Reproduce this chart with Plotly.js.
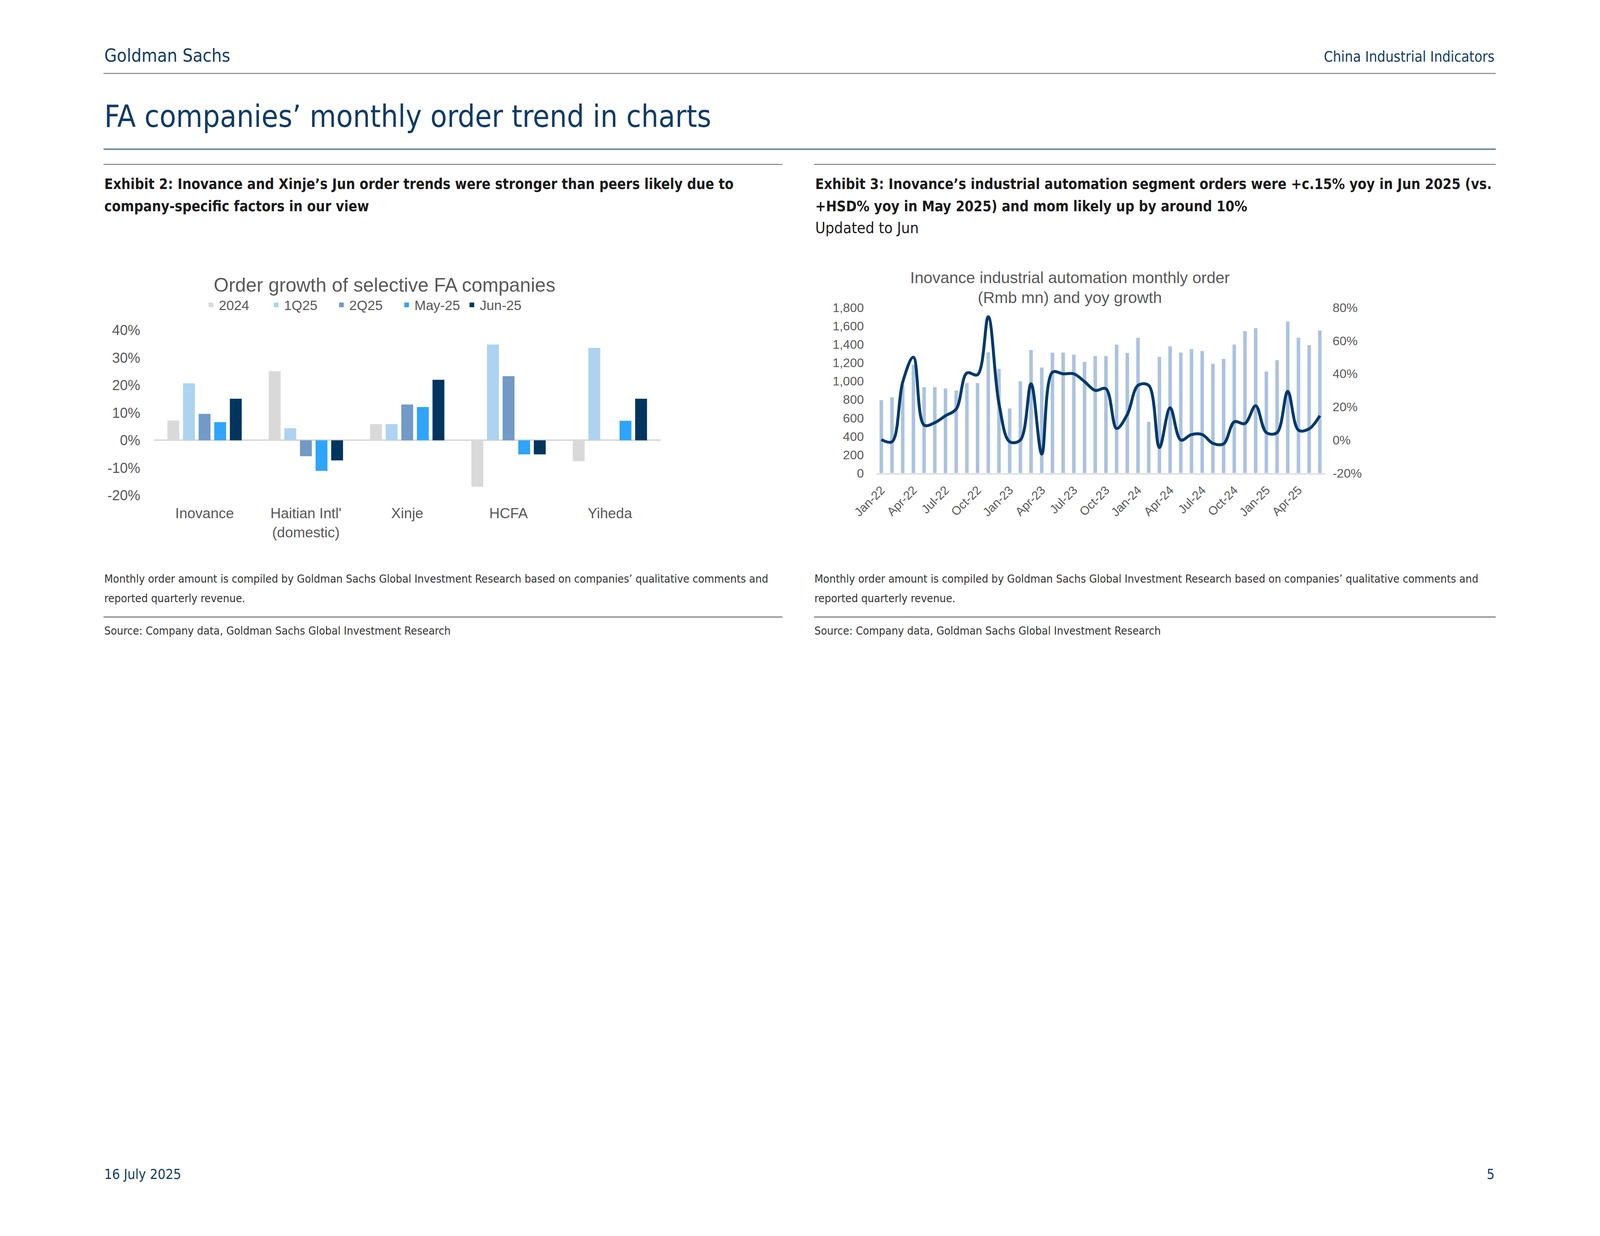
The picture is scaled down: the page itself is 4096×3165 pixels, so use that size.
<!DOCTYPE html>
<html>
<head>
<meta charset="utf-8">
<script src="https://cdn.plot.ly/plotly-3.0.1.min.js"></script>
<style>
html,body{margin:0;padding:0;background:#ffffff;}
#page{width:4096px;height:3165px;}
</style>
</head>
<body>
<div id="page"></div>
<script>
// ---------------- DATA ----------------
// Exhibit 2: order growth (%) of selective FA companies
const companies = ["Inovance", "Haitian Intl'", "Xinje", "HCFA", "Yiheda"];
const companyLabels = ["Inovance", "Haitian Intl'<br>(domestic)", "Xinje", "HCFA", "Yiheda"];
const seriesNames = ["2024", "1Q25", "2Q25", "May-25", "Jun-25"];
const growth2024 = [7.2, 25.1, 5.9, -16.9, -7.6];
const growth1Q25 = [20.7, 4.4, 5.9, 34.8, 33.6];
const growth2Q25 = [9.6, -5.8, 13.0, 23.3, null];
const growthMay25 = [6.6, -11.1, 12.1, -5.1, 7.1];
const growthJun25 = [15.1, -7.3, 22.0, -5.1, 15.1];
const growthTickVals = [-20, -10, 0, 10, 20, 30, 40];
const growthTickText = ["-20%", "-10%", "0%", "10%", "20%", "30%", "40%"];

// Exhibit 3: Inovance industrial automation monthly order (Rmb mn) and yoy growth (%)
const months = ["Jan-22","Feb-22","Mar-22","Apr-22","May-22","Jun-22","Jul-22","Aug-22","Sep-22","Oct-22","Nov-22","Dec-22",
                "Jan-23","Feb-23","Mar-23","Apr-23","May-23","Jun-23","Jul-23","Aug-23","Sep-23","Oct-23","Nov-23","Dec-23",
                "Jan-24","Feb-24","Mar-24","Apr-24","May-24","Jun-24","Jul-24","Aug-24","Sep-24","Oct-24","Nov-24","Dec-24",
                "Jan-25","Feb-25","Mar-25","Apr-25","May-25","Jun-25"];
const monthlyOrder = [795, 825, 960, 1180, 936, 936, 921, 899, 980, 980, 1315, 1134,
                      703, 999, 1339, 1149, 1310, 1310, 1288, 1210, 1273, 1273, 1397, 1307,
                      1472, 558, 1265, 1379, 1313, 1350, 1328, 1189, 1242, 1397, 1544, 1577,
                      1105, 1229, 1649, 1473, 1392, 1550];
const yoyGrowth = [0.3, -1.0, 35, 50, 9, 10.5, 14.7, 18.7, 40.5, 39.5, 74.5, 22,
                   -1, 0, 34, -8.5, 41, 40, 40, 35.3, 30, 31, 7, 15.5,
                   33, 33, -4.5, 19.5, 0, 3.3, 3.3, -2, -2.3, 11, 10, 20.7,
                   4.5, 4.5, 29.4, 6, 6.8, 14.7];
const monthTicks = ["Jan-22","Apr-22","Jul-22","Oct-22","Jan-23","Apr-23","Jul-23","Oct-23",
                    "Jan-24","Apr-24","Jul-24","Oct-24","Jan-25","Apr-25"];
const orderTickVals = [0, 200, 400, 600, 800, 1000, 1200, 1400, 1600, 1800];
const orderTickText = ["0", "200", "400", "600", "800", "1,000", "1,200", "1,400", "1,600", "1,800"];
const yoyTickVals = [-20, 0, 20, 40, 60, 80];
const yoyTickText = ["-20%", "0%", "20%", "40%", "60%", "80%"];

// ---------------- STYLE ----------------
const W = 4096, H = 3165;
const X = px => px / W;
const Y = py => 1 - py / H;
const PAGE_FONT = "Liberation Sans Narrow, Arial Narrow, DejaVu Sans Condensed, sans-serif";
const CHART_FONT = "Liberation Sans, Arial, sans-serif";
const NAVY = "#113b66";
const GREY_TXT = "#595959";
const NOTE_TXT = "#333333";
const seriesColors = ["#d9d9d9", "#add3f0", "#7399c6", "#2ea4fb", "#00355f"];
const seriesValues = [growth2024, growth1Q25, growth2Q25, growthMay25, growthJun25];

// ---------------- TRACES ----------------
const traces = [];
seriesNames.forEach((nm, i) => {
  traces.push({
    type: "bar", name: nm, x: companies, y: seriesValues[i],
    xaxis: "x", yaxis: "y",
    marker: {color: seriesColors[i]},
    hoverinfo: "skip"
  });
});
traces.push({
  type: "bar", name: "Monthly order", x: months, y: monthlyOrder,
  xaxis: "x2", yaxis: "y2", width: 0.33, showlegend: false,
  marker: {color: "#abc3df"}, hoverinfo: "skip"
});
traces.push({
  type: "scatter", mode: "lines", name: "yoy growth", x: months, y: yoyGrowth,
  xaxis: "x2", yaxis: "y3", showlegend: false,
  line: {color: "#00386a", width: 7.5, shape: "spline", smoothing: 1},
  hoverinfo: "skip"
});

// ---------------- ANNOTATIONS ----------------
function ann(text, xpx, basePx, size, o) {
  o = o || {};
  return Object.assign({
    text: text, xref: "paper", yref: "paper",
    x: X(xpx), y: Y(basePx + 0.212 * size),
    xanchor: "left", yanchor: "bottom", showarrow: false, borderpad: 0,
    font: {family: PAGE_FONT, size: size, color: "#1a1a1a"}
  }, o);
}
const pf = (s, c) => ({family: PAGE_FONT, size: s, color: c});
const cf = s => ({family: CHART_FONT, size: s, color: GREY_TXT});
const annotations = [
  ann("Goldman Sachs", 266, 160, 46, {font: pf(46, NAVY)}),
  ann("China Industrial Indicators", 3827, 160, 37, {xanchor: "right", font: pf(37, NAVY)}),
  ann("FA companies’ monthly order trend in charts", 266, 328, 77.5, {font: pf(77.5, NAVY)}),
  ann("<b>Exhibit 2: Inovance and Xinje’s Jun order trends were stronger than peers likely due to</b>", 266, 486, 36.5, {font: pf(36.5, "#1a1a1a")}),
  ann("<b>company-specific factors in our view</b>", 266, 543, 36.5, {font: pf(36.5, "#1a1a1a")}),
  ann("<b>Exhibit 3: Inovance’s industrial automation segment orders were +c.15% yoy in Jun 2025 (vs.</b>", 2086, 486, 36.5, {font: pf(36.5, "#1a1a1a")}),
  ann("<b>+HSD% yoy in May 2025) and mom likely up by around 10%</b>", 2086, 543, 36.5, {font: pf(36.5, "#1a1a1a")}),
  ann("Updated to Jun", 2086, 599, 39.5, {font: pf(39.5, "#1a1a1a")}),
  ann("Order growth of selective FA companies", 984, 748, 49.5, {xanchor: "center", font: cf(49.5)}),
  ann("Inovance industrial automation monthly order", 2739, 726, 41, {xanchor: "center", font: cf(41)}),
  ann("(Rmb mn) and yoy growth", 2739, 777, 41, {xanchor: "center", font: cf(41)}),
  ann("Monthly order amount is compiled by Goldman Sachs Global Investment Research based on companies’ qualitative comments and", 266, 1494, 28.8, {font: pf(28.8, NOTE_TXT)}),
  ann("reported quarterly revenue.", 266, 1544, 28.8, {font: pf(28.8, NOTE_TXT)}),
  ann("Monthly order amount is compiled by Goldman Sachs Global Investment Research based on companies’ qualitative comments and", 2084, 1494, 28.8, {font: pf(28.8, NOTE_TXT)}),
  ann("reported quarterly revenue.", 2084, 1544, 28.8, {font: pf(28.8, NOTE_TXT)}),
  ann("Source: Company data, Goldman Sachs Global Investment Research", 266, 1627, 28.8, {font: pf(28.8, NOTE_TXT)}),
  ann("Source: Company data, Goldman Sachs Global Investment Research", 2084, 1627, 28.8, {font: pf(28.8, NOTE_TXT)}),
  ann("16 July 2025", 266, 3021, 35, {font: pf(35, NAVY)}),
  ann("5", 3827, 3021, 35, {xanchor: "right", font: pf(35, NAVY)})
];

// ---------------- SHAPES (page rules) ----------------
function rule(x0, x1, y, color, w) {
  return {type: "line", xref: "paper", yref: "paper", x0: X(x0), x1: X(x1), y0: Y(y), y1: Y(y),
          line: {color: color, width: w}};
}
const shapes = [
  rule(265, 3829, 188, "#808080", 2.5),
  rule(265, 3829, 382, "#46678a", 3),
  rule(265, 2003, 421, "#808080", 2.5),
  rule(2084, 3829, 421, "#808080", 2.5),
  rule(265, 2003, 1580, "#6b6b6b", 2.5),
  rule(2084, 3829, 1580, "#6b6b6b", 2.5)
];

// ---------------- LAYOUT ----------------
const tickFont = s => ({family: CHART_FONT, size: s, color: GREY_TXT});
const layout = {
  width: W, height: H,
  margin: {l: 0, r: 0, t: 0, b: 0, pad: 0},
  paper_bgcolor: "#ffffff", plot_bgcolor: "rgba(0,0,0,0)",
  font: {family: CHART_FONT, color: GREY_TXT},
  barmode: "group", bargap: 0.23, bargroupgap: 0.24,
  showlegend: true,
  legend: {
    orientation: "h", x: X(520), xanchor: "left", y: Y(781), yanchor: "middle",
    font: {family: CHART_FONT, size: 35, color: GREY_TXT},
    entrywidth: 122, entrywidthmode: "pixels",
    bgcolor: "rgba(0,0,0,0)", borderwidth: 0, traceorder: "normal"
  },
  xaxis: {
    domain: [X(394), X(1691)], anchor: "y", type: "category",
    range: [-0.5, 4.5], tickvals: companies, ticktext: companyLabels,
    showgrid: false, zeroline: false, showline: false, ticks: "",
    tickfont: tickFont(37), ticklabelstandoff: 21, fixedrange: true
  },
  yaxis: {
    domain: [Y(1268.4), Y(845.6)], anchor: "x",
    range: [-20, 40], tickvals: growthTickVals, ticktext: growthTickText,
    showgrid: false, zeroline: true, zerolinecolor: "#d9d9d9", zerolinewidth: 4,
    showline: false, ticks: "", tickfont: tickFont(36), ticklabelstandoff: 34, fixedrange: true
  },
  xaxis2: {
    domain: [X(2242.5), X(3392.5)], anchor: "y2", type: "category",
    range: [-0.5, 41.5], tickvals: monthTicks, ticktext: monthTicks, tickangle: -45,
    showgrid: false, zeroline: false, showline: true, linecolor: "#d9d9d9", linewidth: 3,
    ticks: "", tickfont: tickFont(31), ticklabelstandoff: 10, fixedrange: true
  },
  yaxis2: {
    domain: [Y(1211.6), Y(787.7)], anchor: "x2",
    range: [0, 1800], tickvals: orderTickVals, ticktext: orderTickText,
    showgrid: false, zeroline: false, showline: false, ticks: "",
    tickfont: tickFont(32), ticklabelstandoff: 30, fixedrange: true
  },
  yaxis3: {
    overlaying: "y2", anchor: "x2", side: "right",
    range: [-20, 80], tickvals: yoyTickVals, ticktext: yoyTickText,
    showgrid: false, zeroline: false, showline: false, ticks: "",
    tickfont: tickFont(32), ticklabelstandoff: 18, fixedrange: true
  },
  annotations: annotations,
  shapes: shapes
};

Plotly.newPlot("page", traces, layout, {staticPlot: true, displayModeBar: false, responsive: false});
</script>
</body>
</html>
